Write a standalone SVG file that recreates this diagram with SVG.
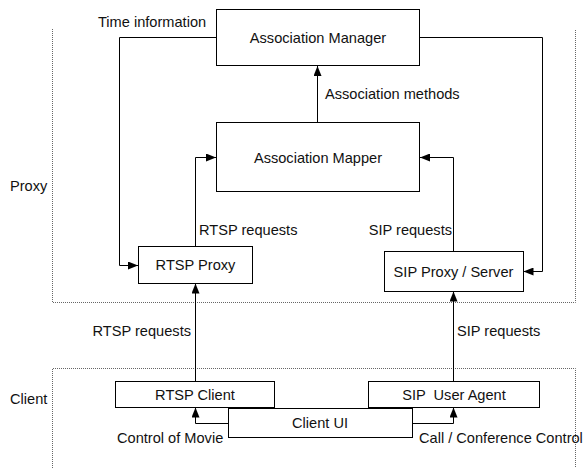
<svg xmlns="http://www.w3.org/2000/svg" width="585" height="468" viewBox="0 0 585 468">
  <style>
    .box { fill: #fff; stroke: #000; stroke-width: 1; }
    .lbl { font-family: "Liberation Sans", Arial, sans-serif; font-size: 14.6px; fill: #111; }
    .mid { text-anchor: middle; }
    .end { text-anchor: end; }
    .wire { fill: none; stroke: #000; stroke-width: 1; }
    .zone { fill: none; stroke: #666; stroke-width: 1; stroke-dasharray: 1 1; }
  </style>
  <defs>
    <marker id="arrow" viewBox="0 0 10 8" refX="10" refY="4" markerWidth="10" markerHeight="8" markerUnits="userSpaceOnUse" orient="auto">
      <path d="M0,0 L10,4 L0,8 Z" fill="#000"/>
    </marker>
  </defs>
  <rect width="585" height="468" fill="#fff"/>

  <!-- Domain boundaries -->
  <g id="zones">
    <path class="zone" d="M52.5,29 V302.5 H575.5 V29"/>
    <path class="zone" d="M52.5,468 V368.5 H575.5 V468"/>
    <text class="lbl" x="10" y="191">Proxy</text>
    <text class="lbl" x="10" y="404">Client</text>
  </g>

  <!-- Connectors -->
  <g id="connectors">
    <path class="wire" d="M216.5,37.5 H119.5 V265.5 H138" marker-end="url(#arrow)"/>
    <path class="wire" d="M419.5,37.5 H542.5 V271.5 H523.5" marker-end="url(#arrow)"/>
    <path class="wire" d="M317.5,122.5 V66" marker-end="url(#arrow)"/>
    <path class="wire" d="M195.5,246 V157.5 H216" marker-end="url(#arrow)"/>
    <path class="wire" d="M453.5,251.5 V157.5 H420" marker-end="url(#arrow)"/>
    <path class="wire" d="M195.5,381.5 V283.5" marker-end="url(#arrow)"/>
    <path class="wire" d="M453.5,381.5 V291.5" marker-end="url(#arrow)"/>
    <path class="wire" d="M228.5,423.5 H195.5 V407.5" marker-end="url(#arrow)"/>
    <path class="wire" d="M412.5,423.5 H453.5 V407.5" marker-end="url(#arrow)"/>

    <text class="lbl" x="98" y="27">Time information</text>
    <text class="lbl" x="325" y="99">Association methods</text>
    <text class="lbl" x="199" y="235">RTSP requests</text>
    <text class="lbl end" x="452" y="235">SIP requests</text>
    <text class="lbl end" x="191" y="336">RTSP requests</text>
    <text class="lbl" x="457" y="336">SIP requests</text>
    <text class="lbl" x="117" y="443">Control of Movie</text>
    <text class="lbl" x="419" y="443">Call / Conference Control</text>
  </g>

  <g id="association-manager">
    <rect class="box" x="216.5" y="9.5" width="203" height="56"/>
    <text class="lbl mid" x="318" y="43">Association Manager</text>
  </g>

  <g id="association-mapper">
    <rect class="box" x="216.5" y="122.5" width="203" height="69"/>
    <text class="lbl mid" x="318" y="163">Association Mapper</text>
  </g>

  <g id="rtsp-proxy">
    <rect class="box" x="138.5" y="246.5" width="114" height="37"/>
    <text class="lbl mid" x="195.5" y="270">RTSP Proxy</text>
  </g>

  <g id="sip-proxy">
    <rect class="box" x="384.5" y="251.5" width="139" height="40"/>
    <text class="lbl mid" x="453.5" y="277">SIP Proxy / Server</text>
  </g>

  <g id="rtsp-client">
    <rect class="box" x="115.5" y="381.5" width="159" height="26"/>
    <text class="lbl mid" x="195" y="400">RTSP Client</text>
  </g>

  <g id="sip-user-agent">
    <rect class="box" x="368.5" y="381.5" width="171" height="26"/>
    <text class="lbl mid" x="454" y="400" xml:space="preserve">SIP  User Agent</text>
  </g>

  <g id="client-ui">
    <rect class="box" x="228.5" y="408.5" width="184" height="29"/>
    <text class="lbl mid" x="320" y="428">Client UI</text>
  </g>
</svg>
